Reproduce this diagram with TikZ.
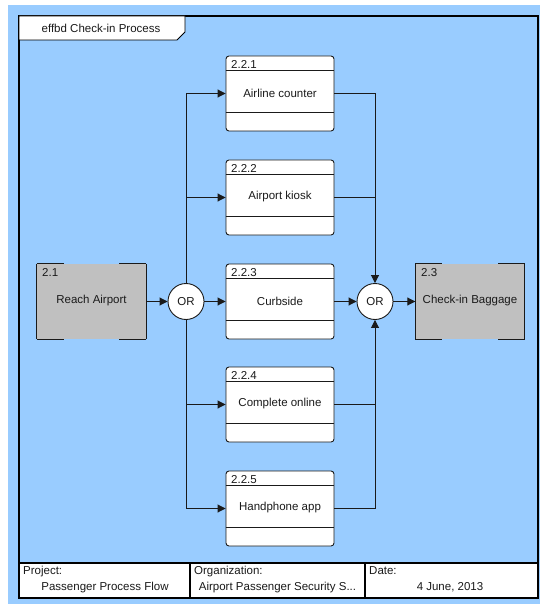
\documentclass[tikz,border=0pt]{standalone}
\usepackage{fontspec}
\setmainfont{Liberation Sans}
\usetikzlibrary{arrows.meta}
\definecolor{bgblue}{HTML}{99CCFF}
\definecolor{refgray}{HTML}{C0C0C0}
\definecolor{ink}{HTML}{1A1A1A}
\begin{document}
\begin{tikzpicture}[x=1pt,y=-1pt,
  font=\fontsize{11.5}{13}\selectfont, text=ink,
  fnbox/.style={draw=ink, line width=0.9pt, fill=white, rounded corners=3pt,
    minimum width=108pt, minimum height=75pt, inner sep=0pt},
  refbox/.style={fill=refgray, minimum width=109pt, minimum height=75pt, inner sep=0pt},
  orgate/.style={circle, draw=ink, line width=0.9pt, fill=white, minimum size=36pt, inner sep=0pt},
  conn/.style={draw=ink, line width=0.9pt},
  arr/.style={conn, -{Triangle[length=8pt,width=8pt]}},
  numlbl/.style={anchor=base west, inner sep=0pt},
  ftlbl/.style={anchor=base west, inner sep=0pt},
  ftval/.style={anchor=base, inner sep=0pt}]
\useasboundingbox (0,0) rectangle (540,604);
% background
\fill[bgblue] (8,5) rectangle (540,604);
% footer
\fill[white] (19,563) rectangle (538,598);
\draw[line width=1.5pt] (19,563) -- (538,563);
\draw[line width=1.5pt] (190,563) -- (190,598);
\draw[line width=1.5pt] (365,563) -- (365,598);
\node[ftlbl] (fp) at (23,574) {Project:};
\node[ftval] (fpv) at (105,590) {Passenger Process Flow};
\node[ftlbl] (fo) at (194,574) {Organization:};
\node[ftval] (fov) at (277.5,590) {Airport Passenger Security S...};
\node[ftlbl] (fd) at (369,574) {Date:};
\node[ftval] (fdv) at (450,590) {4 June, 2013};
% frame
\draw[line width=1.5pt] (19,16) rectangle (538,598);
% tab
\draw[fill=white, line width=0.9pt] (19,16) -- (185,16) -- (185,32) -- (177,40) -- (19,40) -- cycle;
\node (title) at (101,28.5) {effbd Check-in Process};
% function boxes
\foreach \n/\t/\txt in {1/56/Airline counter,2/160/Airport kiosk,3/264/Curbside,4/367/Complete online,5/471/Handphone app}{
  \node[fnbox] (f\n) at (280,\t+37.5) {};
  \draw[ink, line width=0.9pt] ([yshift=-15pt]f\n.north west) -- ([yshift=-15pt]f\n.north east);
  \draw[ink, line width=0.9pt] ([yshift=-57pt]f\n.north west) -- ([yshift=-57pt]f\n.north east);
  \node[numlbl] (n\n) at (231,\t+12.5) {2.2.\n};
  \node (t\n) at (280,\t+37) {\txt};
}
% reference boxes
\node[refbox] (ra) at (91.5,301.5) {};
\node[refbox] (rb) at (470,301.5) {};
\foreach \r in {ra,rb}{
  \draw[ink, line width=0.9pt] (\r.north west) -- (\r.south west);
  \draw[ink, line width=0.9pt] (\r.north east) -- (\r.south east);
  \draw[ink, line width=0.9pt] (\r.north west) -- ++(27,0);
  \draw[ink, line width=0.9pt] (\r.north east) -- ++(-27,0);
  \draw[ink, line width=0.9pt] (\r.south west) -- ++(27,0);
  \draw[ink, line width=0.9pt] (\r.south east) -- ++(-27,0);
}
\node[numlbl] (na) at (42,276.5) {2.1};
\node (ta) at (91.5,301) {Reach Airport};
\node[numlbl] (nb) at (421,276.5) {2.3};
\node (tb) at (470,301) {Check-in Baggage};
% OR gates
\node[orgate] (or1) at (186,301.5) {OR};
\node[orgate] (or2) at (375,301.5) {OR};
% bus coordinates
\coordinate (l1) at (186,93.5);
\coordinate (l2) at (186,197.5);
\coordinate (l4) at (186,404.5);
\coordinate (l5) at (186,508.5);
\coordinate (r1) at (375,93.5);
\coordinate (r2) at (375,197.5);
\coordinate (r4) at (375,404.5);
\coordinate (r5) at (375,508.5);
% connectors
\draw[arr] (ra.east) -- (or1.west);
\draw[conn] (l1) -- (or1.north);
\draw[conn] (or1.south) -- (l5);
\draw[arr] (l1) -- (f1.west);
\draw[arr] (l2) -- (f2.west);
\draw[arr] (or1.east) -- (f3.west);
\draw[arr] (l4) -- (f4.west);
\draw[arr] (l5) -- (f5.west);
\draw[conn] (f1.east) -- (r1);
\draw[arr] (r1) -- (or2.north);
\draw[conn] (f2.east) -- (r2);
\draw[arr] (f3.east) -- (or2.west);
\draw[conn] (f4.east) -- (r4);
\draw[conn] (f5.east) -- (r5);
\draw[arr] (r5) -- (or2.south);
\draw[arr] (or2.east) -- (rb.west);
\end{tikzpicture}
\end{document}
